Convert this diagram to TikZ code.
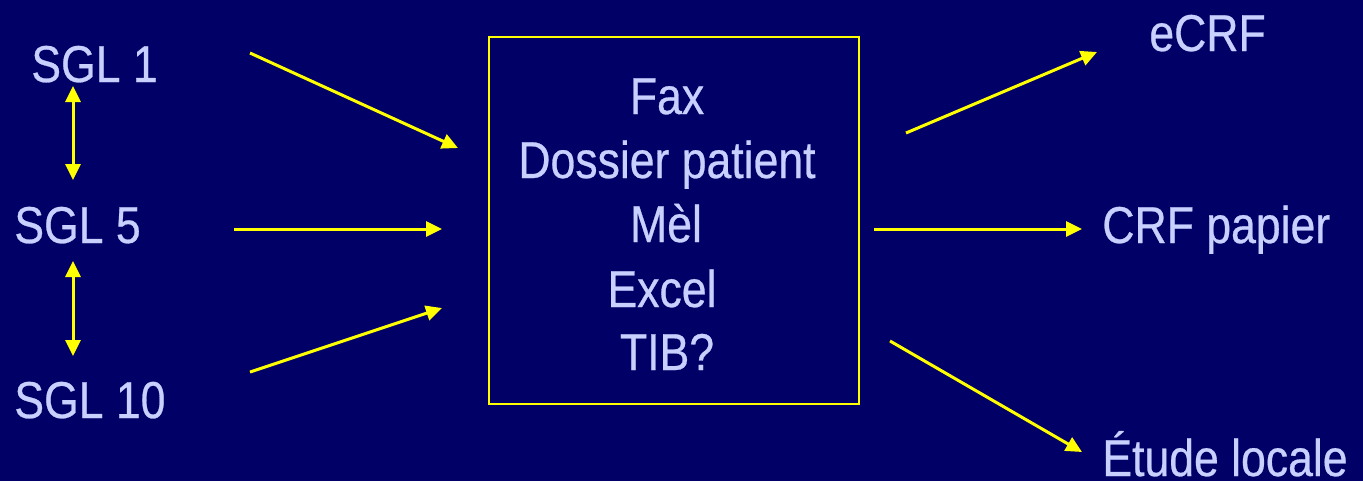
\documentclass[tikz,border=0pt]{standalone}
\usepackage{fontspec}
\setmainfont{Liberation Sans}[FakeStretch=0.86,FakeBold=0.5]
\usetikzlibrary{arrows.meta}
\definecolor{slidebg}{RGB}{0,0,102}
\definecolor{slidetext}{RGB}{200,208,255}
\definecolor{linkyellow}{RGB}{255,255,0}
\begin{document}
\begin{tikzpicture}[x=0.02cm,y=-0.02cm,
  label/.style={text=slidetext,inner sep=0pt,anchor=base west,
    font=\fontsize{29.5pt}{35pt}\selectfont},
  line/.style={text=slidetext,inner sep=0pt,anchor=base,
    font=\fontsize{29.5pt}{35pt}\selectfont},
  flow/.style={draw=linkyellow,line width=0.06cm,
    -{Triangle[length=0.32cm,width=0.3cm]}},
  twoway/.style={draw=linkyellow,line width=0.06cm,
    {Triangle[length=0.32cm,width=0.3cm]}-{Triangle[length=0.32cm,width=0.3cm]}}]
% background
\fill[slidebg] (0,0) rectangle (1363,481);
\useasboundingbox (0,0) rectangle (1363,481);

% sources
\node[label] (sgl1) at (31,82) {SGL 1};
\node[label] (sgl5) at (14,243) {SGL 5};
\node[label] (sgl10) at (14,418) {SGL 10};

% central box and its contents
\node[draw=linkyellow,line width=0.04cm,minimum width=7.4cm,minimum height=7.34cm,
  inner sep=0pt] (box) at (674,220.5) {};
\node[line] (fax) at (667,114) {Fax};
\node[line] (dossier) at (667,178) {Dossier patient};
\node[line] (mel) at (666,242) {Mèl};
\node[line] (excel) at (662,307) {Excel};
\node[line] (tib) at (667,370) {TIB?};

% targets
\node[label] (ecrf) at (1149,51) {eCRF};
\node[label] (crf) at (1102,243) {CRF papier};
\node[label] (etude) at (1102,476) {Étude locale};

% connector end points
\coordinate (a1) at (73,86);   \coordinate (a2) at (73,180);
\coordinate (b1) at (73,261);  \coordinate (b2) at (73,356);
\coordinate (i1s) at (250,53); \coordinate (i1e) at (458,148);
\coordinate (i2s) at (234,229);\coordinate (i2e) at (442,229);
\coordinate (i3s) at (250,372);\coordinate (i3e) at (442,308);
\coordinate (o1s) at (906,133);\coordinate (o1e) at (1097,52);
\coordinate (o2s) at (874,229);\coordinate (o2e) at (1082,229);
\coordinate (o3s) at (890,341);\coordinate (o3e) at (1082,452);

% links between sources
\draw[twoway] (a1) -- (a2);
\draw[twoway] (b1) -- (b2);

% inputs to the box
\draw[flow] (i1s) -- (i1e);
\draw[flow] (i2s) -- (i2e);
\draw[flow] (i3s) -- (i3e);

% outputs from the box
\draw[flow] (o1s) -- (o1e);
\draw[flow] (o2s) -- (o2e);
\draw[flow] (o3s) -- (o3e);
\end{tikzpicture}
\end{document}
